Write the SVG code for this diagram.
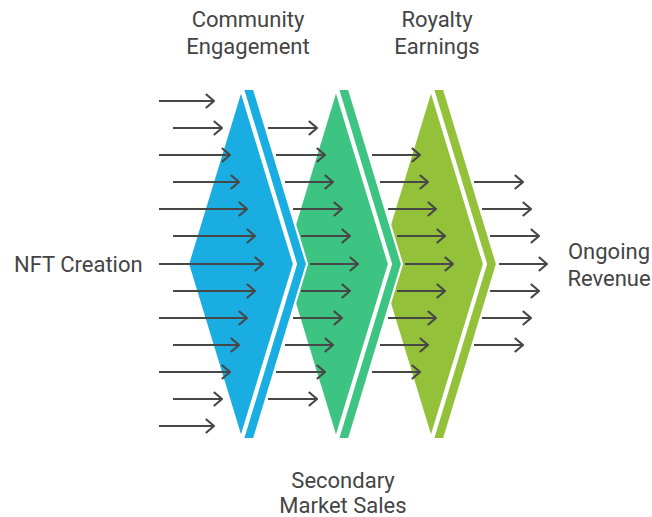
<svg xmlns="http://www.w3.org/2000/svg" width="652" height="517" viewBox="0 0 652 517">
  <style>
    .inner, .band { stroke: #ffffff; stroke-width: 2.2; stroke-linejoin: round; }
    .blue { fill: #19ADE1; }
    .green { fill: #3DC482; }
    .lime { fill: #93C13A; }
    .lbl { font-family: Roboto, "Liberation Sans", sans-serif; font-size: 22px; fill: #444444; }
    .arr { fill: none; stroke: #474747; stroke-width: 2.2; marker-end: url(#head); }
  </style>
  <defs>
    <marker id="head" viewBox="0 0 10 16" refX="9" refY="8" markerWidth="10" markerHeight="16" markerUnits="userSpaceOnUse" orient="auto">
      <path d="M0.8,1 L9,8 L0.8,15" fill="none" stroke="#474747" stroke-width="2.2" stroke-linejoin="miter"/>
    </marker>
    <!-- one chevron stage: a diamond body plus a slanted band on its right -->
    <polygon id="body" points="241,90 294,264 241,438 188,264"/>
    <polygon id="strip" points="243,89 254,89 307,264 254,439 243,439 296,264"/>
  </defs>

  <!-- stages, back to front -->
  <g id="stage-royalty">
    <use href="#body" class="inner lime" transform="translate(190,0)"/>
    <use href="#strip" class="band lime" transform="translate(190,0)"/>
  </g>
  <g id="stage-secondary">
    <use href="#body" class="inner green" transform="translate(95,0)"/>
    <use href="#strip" class="band green" transform="translate(95,0)"/>
  </g>
  <g id="stage-community">
    <use href="#body" class="inner blue"/>
    <use href="#strip" class="band blue"/>
  </g>

  <!-- flow arrows -->
  <g id="connectors">
    <path class="arr" d="M159,101 H214"/>
    <path class="arr" d="M173,128 H222"/>
    <path class="arr" d="M159,155 H230"/>
    <path class="arr" d="M173,182 H239"/>
    <path class="arr" d="M159,209 H247"/>
    <path class="arr" d="M173,236 H255"/>
    <path class="arr" d="M159,264 H263"/>
    <path class="arr" d="M173,291 H255"/>
    <path class="arr" d="M159,318 H247"/>
    <path class="arr" d="M173,345 H239"/>
    <path class="arr" d="M159,372 H230"/>
    <path class="arr" d="M173,399 H222"/>
    <path class="arr" d="M159,426 H214"/>

    <path class="arr" d="M268,128 H317"/>
    <path class="arr" d="M276,155 H325"/>
    <path class="arr" d="M285,182 H333"/>
    <path class="arr" d="M293,209 H342"/>
    <path class="arr" d="M301,236 H350"/>
    <path class="arr" d="M310,264 H358"/>
    <path class="arr" d="M301,291 H350"/>
    <path class="arr" d="M293,318 H342"/>
    <path class="arr" d="M285,345 H333"/>
    <path class="arr" d="M276,372 H325"/>
    <path class="arr" d="M268,399 H317"/>

    <path class="arr" d="M372,155 H420"/>
    <path class="arr" d="M380,182 H428"/>
    <path class="arr" d="M388,209 H436"/>
    <path class="arr" d="M397,236 H445"/>
    <path class="arr" d="M405,264 H453"/>
    <path class="arr" d="M397,291 H445"/>
    <path class="arr" d="M388,318 H436"/>
    <path class="arr" d="M380,345 H428"/>
    <path class="arr" d="M372,372 H420"/>

    <path class="arr" d="M474,182 H523"/>
    <path class="arr" d="M482,209 H531"/>
    <path class="arr" d="M490,236 H539"/>
    <path class="arr" d="M499,264 H547"/>
    <path class="arr" d="M490,291 H539"/>
    <path class="arr" d="M482,318 H531"/>
    <path class="arr" d="M474,345 H523"/>
  </g>

  <!-- labels -->
  <g id="label-nft-creation">
    <text class="lbl" x="14" y="271.5">NFT Creation</text>
  </g>
  <g id="label-community">
    <text class="lbl" x="248" y="27" text-anchor="middle">Community</text>
    <text class="lbl" x="248" y="53.5" text-anchor="middle">Engagement</text>
  </g>
  <g id="label-secondary">
    <text class="lbl" x="343" y="488" text-anchor="middle">Secondary</text>
    <text class="lbl" x="343" y="513" text-anchor="middle">Market Sales</text>
  </g>
  <g id="label-royalty">
    <text class="lbl" x="437" y="27" text-anchor="middle">Royalty</text>
    <text class="lbl" x="437" y="53.5" text-anchor="middle">Earnings</text>
  </g>
  <g id="label-ongoing">
    <text class="lbl" x="609" y="259" text-anchor="middle">Ongoing</text>
    <text class="lbl" x="609" y="286" text-anchor="middle">Revenue</text>
  </g>
</svg>
